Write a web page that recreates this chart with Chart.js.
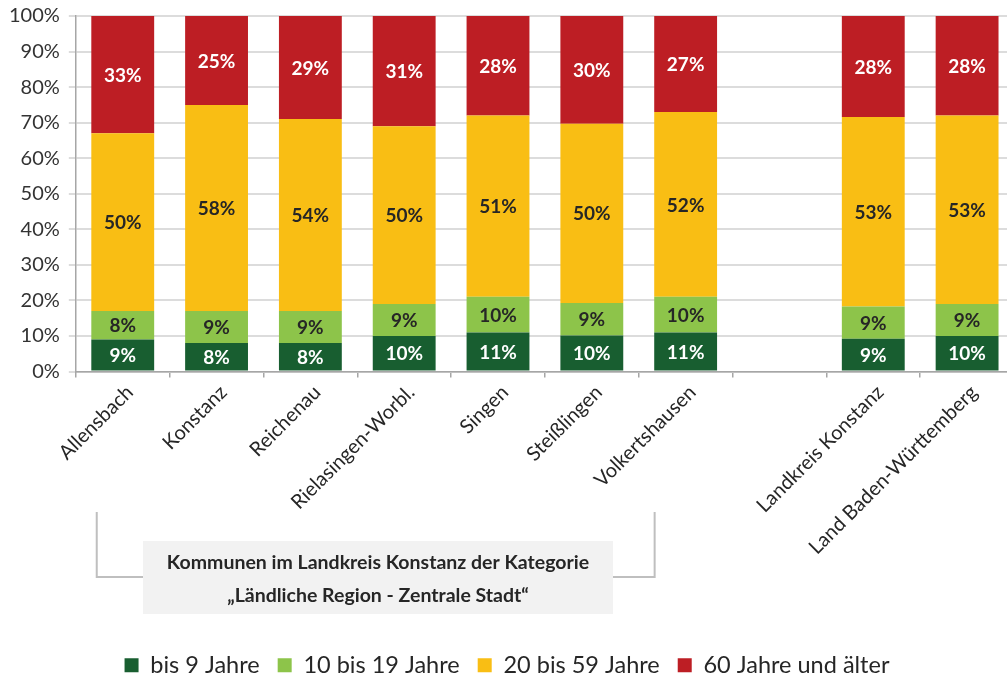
<!DOCTYPE html>
<html>
<head>
<meta charset="utf-8">
<script src="https://cdn.jsdelivr.net/npm/chart.js@4/dist/chart.umd.min.js"></script>
<style>
  html, body { margin: 0; padding: 0; background: #fff; overflow: hidden; }
  #wrap { width: 1020px; height: 677px; }
</style>
</head>
<body>
<div id="wrap"><canvas id="myChart" width="1020" height="677"></canvas></div>
<script>
// Kategorien (leerer Platz zwischen Volkertshausen und Landkreis)
var kommunen = ['Allensbach', 'Konstanz', 'Reichenau', 'Rielasingen-Worbl.', 'Singen', 'Steißlingen', 'Volkertshausen', '', 'Landkreis Konstanz', 'Land Baden-Württemberg'];

// Anteile in Prozent
var bis9 = [9, 8, 8, 10, 11, 10.1, 11, null, 9.2, 10];
var bis19 = [8, 9, 9, 9, 10, 9.2, 10, null, 9.1, 9];
var bis59 = [50, 58, 54, 50, 51, 50.4, 52, null, 53.3, 53];
var ab60 = [33, 25, 29, 31, 28, 30.3, 27, null, 28.4, 28];

var yTicks = [0, 10, 20, 30, 40, 50, 60, 70, 80, 90, 100];

var schrift = 'Lato, "Open Sans", sans-serif';

// Beschriftung in den Balken
var werteLabels = {
    id: 'werteLabels',
    afterDatasetsDraw: function (chart) {
        var ctx = chart.ctx;
        ctx.save();
        ctx.font = 'bold 19px ' + schrift;
        ctx.textAlign = 'center';
        ctx.textBaseline = 'middle';
        chart.data.datasets.forEach(function (ds, i) {
            var meta = chart.getDatasetMeta(i);
            meta.data.forEach(function (bar, j) {
                var v = ds.data[j];
                if (v === null || v === undefined) return;
                ctx.fillStyle = ds.labelColor;
                ctx.fillText(Math.round(v) + '%', bar.x, (bar.y + bar.base) / 2 + 1);
            });
        });
        ctx.restore();
    }
};

// Klammer und Kasten unter den Kommunen
var klammer = {
    id: 'klammer',
    afterDraw: function (chart) {
        var ctx = chart.ctx;
        var x = chart.scales.x;
        var links = x.getPixelForValue(0) - 26;
        var rechts = x.getPixelForValue(6) - 31;
        ctx.save();
        ctx.strokeStyle = '#bfbfbf';
        ctx.lineWidth = 2;
        ctx.beginPath();
        ctx.moveTo(links, 512);
        ctx.lineTo(links, 577);
        ctx.lineTo(rechts, 577);
        ctx.lineTo(rechts, 512);
        ctx.stroke();
        ctx.fillStyle = '#f2f2f2';
        ctx.fillRect(143, 541, 470, 73);
        ctx.fillStyle = '#262626';
        ctx.font = 'bold 19.5px ' + schrift;
        ctx.textAlign = 'center';
        ctx.textBaseline = 'middle';
        ctx.fillText('Kommunen im Landkreis Konstanz der Kategorie', 378, 563);
        ctx.fillText('\u201eLändliche Region - Zentrale Stadt\u201c', 378, 596);
        ctx.restore();
    }
};

var ctx = document.getElementById('myChart').getContext('2d');
var grafico = new Chart(ctx, {
    type: 'bar',
    data: {
        labels: kommunen,
        datasets: [
            { label: 'bis 9 Jahre', data: bis9, backgroundColor: '#185e30', labelColor: '#ffffff' },
            { label: '10 bis 19 Jahre', data: bis19, backgroundColor: '#8dc44a', labelColor: '#262626' },
            { label: '20 bis 59 Jahre', data: bis59, backgroundColor: '#f9be14', labelColor: '#262626' },
            { label: '60 Jahre und älter', data: ab60, backgroundColor: '#bd1e24', labelColor: '#ffffff' }
        ]
    },
    options: {
        responsive: false,
        animation: false,
        barPercentage: 0.67,
        categoryPercentage: 1,
        layout: { padding: { top: 16, left: 0, right: 6, bottom: -10 } },
        plugins: {
            legend: {
                position: 'bottom',
                labels: {
                    font: { family: schrift, size: 23.5 },
                    color: '#262626',
                    boxWidth: 14,
                    boxHeight: 14,
                    padding: 18
                }
            },
            tooltip: { enabled: false }
        },
        scales: {
            x: {
                stacked: true,
                grid: { offset: true, drawOnChartArea: false, color: '#a6a6a6', tickLength: 6, lineWidth: 1.5 },
                border: { color: '#a6a6a6', width: 1.5 },
                ticks: {
                    font: { family: schrift, size: 20 },
                    color: '#262626',
                    minRotation: 45,
                    maxRotation: 45,
                    labelOffset: 7,
                    autoSkip: false
                },
                afterFit: function (scale) {
                    scale.height = 264;
                    scale.paddingLeft = 0;
                    scale.paddingRight = 0;
                }
            },
            y: {
                stacked: true,
                min: 0,
                max: 100,
                afterBuildTicks: function (scale) {
                    scale.ticks = yTicks.map(function (v) { return { value: v }; });
                },
                grid: { color: '#dcdcdc', lineWidth: 2, tickLength: 7 },
                border: { color: '#a6a6a6', width: 1.5 },
                ticks: {
                    font: { family: schrift, size: 20 },
                    color: '#333333',
                    padding: 9,
                    callback: function (v) { return v + '%'; }
                },
                afterFit: function (scale) {
                    scale.paddingTop = 0;
                    scale.paddingBottom = 0;
                }
            }
        }
    },
    plugins: [werteLabels, klammer]
});
</script>
</body>
</html>
